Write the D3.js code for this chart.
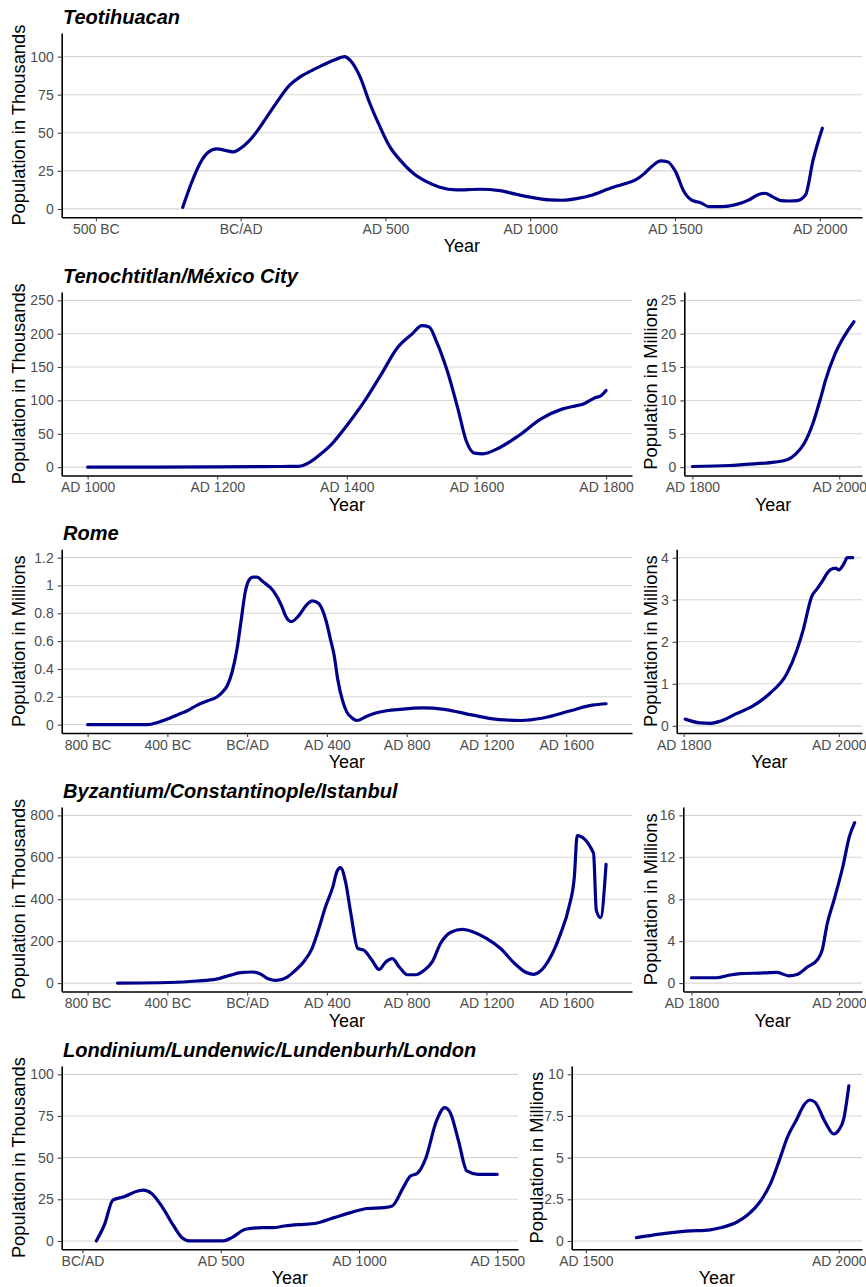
<!DOCTYPE html>
<html><head><meta charset="utf-8">
<script src="https://d3js.org/d3.v7.min.js"></script>
<style>
body{margin:0;background:#fff}
svg{display:block}
text{font-family:"Liberation Sans",Arial,Helvetica,sans-serif}
</style>
</head><body>
<svg id="chart" width="866" height="1287"></svg>
<script>
// ---------------- DATA ----------------
// [year, population] (left panels: thousands / millions as labelled; right panels: millions)
const teotihuacan = [[-200,1],[-170,17],[-140,30],[-113,37],[-83,39.4],[-50,38.3],[-25,37.4],[-3,39.4],[26,44],[55,50.6],[89,60],[124,69.8],[170,81.4],[204,86.5],[262,92.4],[319,97.4],[360,100],[377,97.8],[412,86.9],[446,69.4],[481,54],[515,40.9],[550,32.2],[596,23.4],[642,17.9],[688,14.2],[745,12.5],[826,12.9],[895,12],[952,9.6],[1010,7.4],[1067,5.9],[1113,5.7],[1160,6.8],[1215,9.2],[1272,13.3],[1318,16.1],[1364,19],[1393,23],[1422,28.2],[1451,31.5],[1474,31],[1502,24.5],[1531,11.4],[1560,5.5],[1589,4.1],[1617,1.5],[1664,1.5],[1710,2.8],[1756,5.9],[1785,9.2],[1811,10.3],[1836,8.1],[1865,5.5],[1894,5.2],[1923,5.5],[1951,9.2],[1977,32],[2009,53]];

const mexicoEarly = [[1000,0],[1100,0.2],[1200,0.5],[1300,1],[1326,1.2],[1343,7.5],[1360,20],[1377,35],[1402,65],[1428,100],[1453,139],[1478,179],[1500,199],[1516,212],[1527,210],[1538,189],[1555,144],[1572,85],[1584,40],[1597,21],[1610,20],[1631,27],[1665,47],[1699,72],[1732,87],[1749,91],[1766,95],[1783,104],[1792,107],[1800,115]];
const mexicoModern = [[1800,0.1],[1850,0.25],[1884,0.5],[1912,0.75],[1930,1.15],[1941,2.0],[1952,3.5],[1964,6.5],[1975,10.5],[1981,12.9],[1994,16.9],[2003,18.9],[2020,21.8]];

const romeEarly = [[-800,0],[-500,0],[-450,0.015],[-400,0.04],[-350,0.07],[-300,0.1],[-250,0.14],[-200,0.17],[-150,0.2],[-120,0.24],[-100,0.28],[-75,0.38],[-50,0.55],[-30,0.75],[-10,0.95],[15,1.05],[30,1.06],[50,1.06],[77,1.03],[132,0.96],[174,0.85],[193,0.78],[221,0.74],[257,0.78],[298,0.86],[326,0.89],[359,0.87],[395,0.75],[420,0.6],[436,0.5],[455,0.32],[477,0.18],[500,0.09],[525,0.05],[550,0.03],[600,0.06],[650,0.085],[700,0.1],[767,0.11],[877,0.12],[988,0.11],[1126,0.07],[1263,0.036],[1374,0.03],[1484,0.048],[1622,0.1],[1732,0.14],[1800,0.15]];
const romeModern = [[1802,0.16],[1821,0.07],[1834,0.06],[1847,0.11],[1868,0.29],[1890,0.48],[1911,0.77],[1933,1.24],[1946,1.8],[1954,2.27],[1965,3.07],[1972,3.26],[1978,3.42],[1989,3.71],[1996,3.75],[2000,3.71],[2007,3.87],[2011,4.0],[2018,4.0]];

const istanbulEarly = [[-650,0],[-389,3],[-251,10],[-155,19],[-87,37],[-32,50],[23,53],[64,45],[105,21],[146,13],[201,29],[242,61],[283,101],[325,165],[357,252],[393,364],[430,460],[450,532],[468,551],[495,476],[520,332],[555,165],[585,157],[626,109],[662,65],[695,101],[728,117],[763,77],[804,40],[846,40],[887,61],[928,101],[969,188],[1024,244],[1079,256],[1134,244],[1202,212],[1271,165],[1339,96],[1394,53],[1435,42],[1490,77],[1531,141],[1572,236],[1614,364],[1641,508],[1655,703],[1737,620],[1751,348],[1772,312],[1800,567]];
const istanbulModern = [[1800,0.51],[1834,0.51],[1852,0.77],[1866,0.9],[1893,0.96],[1916,1.02],[1932,0.7],[1943,0.83],[1957,1.53],[1971,2.27],[1977,3.13],[1984,5.7],[1993,7.9],[2005,11.1],[2014,14.0],[2021,15.3]];

const londonEarly = [[50,0],[80,10],[110,24.5],[150,26.5],[200,30],[220,30.5],[250,28.5],[290,20],[330,9],[360,2],[390,0],[510,0],[540,2],[590,7],[650,8],[690,8],[730,9],[800,10],[840,10.5],[910,14],[970,17],[1030,19.5],[1090,20],[1120,21],[1160,32],[1186,39],[1210,40.5],[1240,49],[1280,72],[1310,80],[1330,77],[1360,60],[1390,42],[1430,40],[1500,40]];
const londonModern = [[1600,0.2],[1646,0.41],[1699,0.59],[1746,0.67],[1766,0.79],[1799,1.14],[1819,1.54],[1846,2.42],[1866,3.5],[1883,4.88],[1899,6.26],[1916,7.24],[1933,8.23],[1943,8.46],[1953,8.33],[1973,7.15],[1990,6.42],[2000,6.65],[2010,7.34],[2020,9.31]];

// Tick values / labels
const xTicksTeo = [-500,0,500,1000,1500,2000];
const xTicksMexico = [1000,1200,1400,1600,1800];
const xTicksAncient = [-800,-400,0,400,800,1200,1600];
const xTicksLondon = [0,500,1000,1500];
const xTicksModern = [1800,2000];
const xTicksLondonModern = [1500,2000];

const yTicksTeo = [0,25,50,75,100];
const yTicksMexico = [0,50,100,150,200,250];
const yTicksMexicoM = [0,5,10,15,20,25];
const yTicksRome = [0,0.2,0.4,0.6,0.8,1,1.2];
const yLabelsRome = ["0","0.2","0.4","0.6","0.8","1","1.2"];
const yTicksRomeM = [0,1,2,3,4];
const yTicksIstanbul = [0,200,400,600,800];
const yTicksIstanbulM = [0,4,8,12,16];
const yTicksLondon = [0,25,50,75,100];
const yTicksLondonM = [0,2.5,5,7.5,10];
const yLabelsLondonM = ["0","2.5","5","7.5","10"];

const titles = ["Teotihuacan","Tenochtitlan/México City","Rome","Byzantium/Constantinople/Istanbul","Londinium/Lundenwic/Lundenburh/London"];
const yTitleK = "Population in Thousands";
const yTitleM = "Population in Millions";
const xTitle = "Year";

// ---------------- DRAWING ----------------
const svg = d3.select("#chart");
const LINE = "#00008B";
function yearLabel(y){ return y < 0 ? (-y) + " BC" : (y === 0 ? "BC/AD" : "AD " + y); }

function drawPanel(p){
  const x = d3.scaleLinear().domain(p.xDom).range([p.left, p.right]);
  const y = d3.scaleLinear().domain(p.yDom).range([p.bottom, p.top]);
  const g = svg.append("g");

  g.selectAll("line.grid").data(p.yTicks).join("line")
    .attr("class","grid")
    .attr("x1", p.left).attr("x2", p.right)
    .attr("y1", d => y(d)).attr("y2", d => y(d))
    .attr("stroke", "#d6d6d6").attr("stroke-width", 1.1);

  const line = d3.line().x(d => x(d[0])).y(d => y(d[1])).curve(d3.curveMonotoneX);
  g.append("path").datum(p.data)
    .attr("d", line).attr("fill","none")
    .attr("stroke", LINE).attr("stroke-width", 3.2)
    .attr("stroke-linejoin","round").attr("stroke-linecap","round");

  const yAx = d3.axisLeft(y).tickValues(p.yTicks)
    .tickFormat((d,i) => p.yLabels ? p.yLabels[i] : String(d))
    .tickSize(4).tickSizeOuter(0).tickPadding(4);
  const ya = g.append("g").attr("transform", `translate(${p.left},0)`).call(yAx);
  const xAx = d3.axisBottom(x).tickValues(p.xTicks).tickFormat(yearLabel)
    .tickSize(4).tickSizeOuter(0).tickPadding(3);
  const xa = g.append("g").attr("transform", `translate(0,${p.bottom})`).call(xAx);

  [ya, xa].forEach(a => {
    a.attr("font-family", null).attr("font-size", null);
    a.select(".domain").attr("stroke", "#000").attr("stroke-width", 1.6);
    a.selectAll(".tick line").attr("stroke", "#333").attr("stroke-width", 1);
    a.selectAll(".tick text").attr("fill", "#4d4d4d").style("font-size", "14px");
  });

  g.append("text")
    .attr("transform", `translate(${p.yTitleX},${(p.top + p.bottom) / 2}) rotate(-90)`)
    .attr("text-anchor","middle").style("font-size","18.3px").attr("fill","#000")
    .text(p.yTitle);
  g.append("text")
    .attr("x", (p.left + p.right) / 2).attr("y", p.bottom + 35)
    .attr("text-anchor","middle").style("font-size","18px").attr("fill","#000")
    .text(xTitle);
  if (p.title) {
    g.append("text").attr("x", 63).attr("y", p.top - 9.5)
      .style("font-size","20px").style("font-weight","bold").style("font-style","italic")
      .attr("fill","#000").text(p.title);
  }
}

const rows = [
  {top:33, bottom:217.3},
  {top:292, bottom:475.5},
  {top:549.3, bottom:733},
  {top:807, bottom:991.5},
  {top:1066, bottom:1249.3}
];

const panels = [
  {row:0, left:61.7, right:862, xDom:[-618,2146], yDom:[-5.5,115.5], data:teotihuacan, xTicks:xTicksTeo, yTicks:yTicksTeo, yTitle:yTitleK, yTitleX:24.5, title:titles[0]},
  {row:1, left:61.7, right:632, xDom:[960,1840], yDom:[-12.5,262.5], data:mexicoEarly, xTicks:xTicksMexico, yTicks:yTicksMexico, yTitle:yTitleK, yTitleX:24.5, title:titles[1]},
  {row:1, left:684.3, right:862, xDom:[1789,2031], yDom:[-1.25,26.25], data:mexicoModern, xTicks:xTicksModern, yTicks:yTicksMexicoM, yTitle:yTitleM, yTitleX:657},
  {row:2, left:61.7, right:632, xDom:[-930,1930], yDom:[-0.06,1.26], data:romeEarly, xTicks:xTicksAncient, yTicks:yTicksRome, yLabels:yLabelsRome, yTitle:yTitleM, yTitleX:24.5, title:titles[2]},
  {row:2, left:676.7, right:862, xDom:[1791,2030], yDom:[-0.17,4.2], data:romeModern, xTicks:xTicksModern, yTicks:yTicksRomeM, yTitle:yTitleM, yTitleX:657},
  {row:3, left:61.7, right:632, xDom:[-930,1930], yDom:[-40,840], data:istanbulEarly, xTicks:xTicksAncient, yTicks:yTicksIstanbul, yTitle:yTitleK, yTitleX:24.5, title:titles[3]},
  {row:3, left:683.3, right:862, xDom:[1789,2031], yDom:[-0.8,16.8], data:istanbulModern, xTicks:xTicksModern, yTicks:yTicksIstanbulM, yTitle:yTitleM, yTitleX:657},
  {row:4, left:61.7, right:518, xDom:[-75,1575], yDom:[-5,105], data:londonEarly, xTicks:xTicksLondon, yTicks:yTicksLondon, yTitle:yTitleK, yTitleX:24.5, title:titles[4]},
  {row:4, left:571.7, right:862, xDom:[1472,2046], yDom:[-0.5,10.5], data:londonModern, xTicks:xTicksLondonModern, yTicks:yTicksLondonM, yLabels:yLabelsLondonM, yTitle:yTitleM, yTitleX:542.5}
];

panels.forEach(p => drawPanel(Object.assign({}, p, rows[p.row])));
</script>
</body></html>
